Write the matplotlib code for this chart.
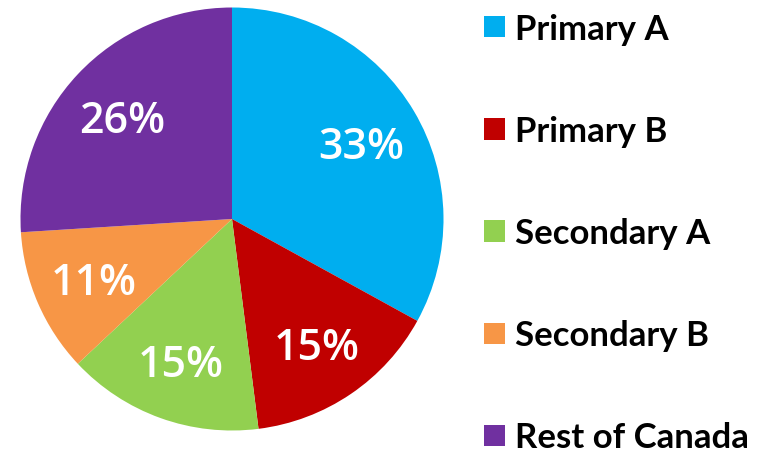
import matplotlib
matplotlib.use("Agg")
import matplotlib.pyplot as plt
from matplotlib.patches import Rectangle

categories = ["Primary A", "Primary B", "Secondary A", "Secondary B", "Rest of Canada"]
shares = [33, 15, 15, 11, 26]
colors = ["#00AEEF", "#C00000", "#92D050", "#F79646", "#7030A0"]

plt.rcParams["font.family"] = ["Open Sans", "DejaVu Sans"]

W, H = 769, 449
fig = plt.figure(figsize=(W / 100, H / 100), dpi=100)

# pie centred at (232, 219) px from top-left, radius ~211 px
cx, cy, r = 232, 219, 211.5
ax = fig.add_axes([(cx - r) / W, (H - cy - r) / H, 2 * r / W, 2 * r / H])
wedges, texts, autotexts = ax.pie(
    shares, colors=colors, startangle=90, counterclock=False,
    autopct="%d%%", pctdistance=0.71,
    wedgeprops=dict(linewidth=0),
    textprops=dict(color="white", fontsize=31, fontweight="semibold"),
)
for t in autotexts:
    t.set_va("center_baseline")
ax.set_xlim(-1, 1)
ax.set_ylim(-1, 1)
ax.set_aspect("equal")
ax.axis("off")

# legend drawn as a column of squares and labels
sq = 21
row_y = [26.5, 129, 231, 333, 435.5]
for name, col, y in zip(categories, colors, row_y):
    fig.add_artist(Rectangle(((484) / W, (H - y - sq / 2) / H), sq / W, sq / H,
                             transform=fig.transFigure, color=col, lw=0))
    fig.text(515 / W, (H - y) / H, name, fontsize=25, fontweight="bold",
             family=["Lato", "DejaVu Sans"],
             color="black", va="center_baseline", ha="left")

fig.savefig("out.png", dpi=100)
